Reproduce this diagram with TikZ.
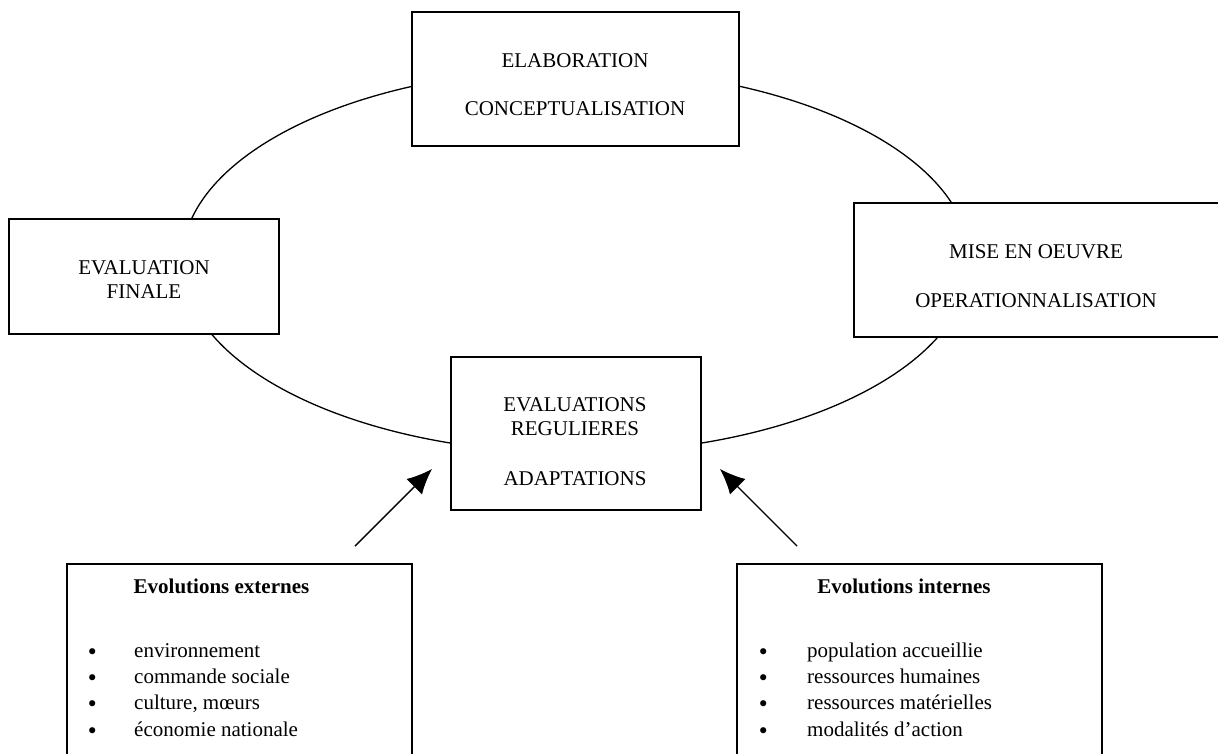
\documentclass[tikz,border=0pt]{standalone}
\usepackage{fontspec}
\setmainfont{Liberation Serif}
\newfontfamily\dejavu{DejaVu Sans}
\usetikzlibrary{arrows.meta}
\newcommand\mybullet[1]{\makebox[#1][l]{\smash{\raisebox{-2pt}{\dejavu •}}}}
\tikzset{
  box/.style={draw, line width=1.4pt, fill=white, inner sep=0pt},
  lbl/.style={anchor=base, inner sep=0pt, font=\fontsize{21}{26}\selectfont},
  lblw/.style={anchor=base west, inner sep=0pt, font=\fontsize{21}{26}\selectfont},
  ttl/.style={anchor=base, inner sep=0pt, font=\fontsize{21}{26}\selectfont\bfseries},
  arr/.style={line width=1.4pt, -{Latex[length=25pt,width=22pt]}},
  cycle line/.style={line width=1.3pt},
}
\begin{document}
\begin{tikzpicture}[x=1pt,y=-1pt]
\useasboundingbox (0,0) rectangle (1218,753);
\clip (0,0) rectangle (1218,753);
\fill[white] (0,0) rectangle (1218,753);

% cycle
\draw[cycle line] (576,261) ellipse [x radius=394, y radius=192];

% boxes
\node[box, minimum width=327pt, minimum height=134pt] (elab) at (575.5,79) {};
\node[box, minimum width=270pt, minimum height=115pt] (final) at (144,276.5) {};
\node[box, minimum width=368pt, minimum height=134pt] (mise) at (1038,270) {};
\node[box, minimum width=250pt, minimum height=153pt] (reg) at (576,433.5) {};
\node[box, minimum width=345pt, minimum height=196pt] (ext) at (239.5,662) {};
\node[box, minimum width=365pt, minimum height=196pt] (int) at (919.5,662) {};

% box texts
\node[lbl] (elab1) at (575,67) {ELABORATION};
\node[lbl] (elab2) at (575,115) {CONCEPTUALISATION};
\node[lbl] (final1) at (144,274) {EVALUATION};
\node[lbl] (final2) at (144,298) {FINALE};
\node[lbl] (mise1) at (1036,258) {MISE EN OEUVRE};
\node[lbl] (mise2) at (1036,307) {OPERATIONNALISATION};
\node[lbl] (reg1) at (575,411) {EVALUATIONS};
\node[lbl] (reg2) at (575,435) {REGULIERES};
\node[lbl] (reg3) at (575,485) {ADAPTATIONS};

% external
\node[ttl] (extT) at (221.5,593) {Evolutions externes};
\node[lblw] (e1) at (86,657) {\mybullet{48pt}environnement};
\node[lblw] (e2) at (86,683) {\mybullet{48pt}commande sociale};
\node[lblw] (e3) at (86,709) {\mybullet{48pt}culture, mœurs};
\node[lblw] (e4) at (86,736) {\mybullet{48pt}économie nationale};

% internal
\node[ttl] (intT) at (904,593) {Evolutions internes};
\node[lblw] (i1) at (757,657) {\mybullet{50pt}population accueillie};
\node[lblw] (i2) at (757,683) {\mybullet{50pt}ressources humaines};
\node[lblw] (i3) at (757,709) {\mybullet{50pt}ressources matérielles};
\node[lblw] (i4) at (757,736) {\mybullet{50pt}modalités d’action};

% arrows
\coordinate (aL0) at (355,546);
\coordinate (aL1) at (432,469);
\coordinate (aR0) at (797,546);
\coordinate (aR1) at (720,469);
\draw[arr] (aL0) -- (aL1);
\draw[arr] (aR0) -- (aR1);
\end{tikzpicture}
\end{document}
